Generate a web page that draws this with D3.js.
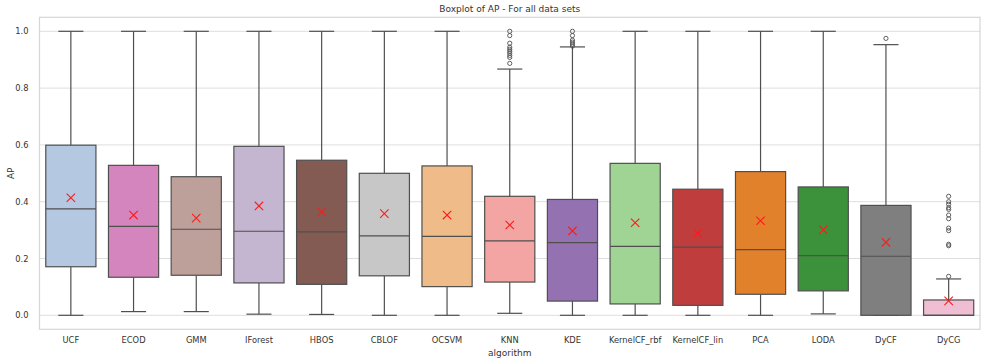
<!DOCTYPE html>
<html>
<head>
<meta charset="utf-8">
<script src="https://cdn.jsdelivr.net/npm/d3@7"></script>
<style>
  body { margin: 0; background: #fff; }
  text { font-family: "DejaVu Sans", sans-serif; fill: #333; }
</style>
</head>
<body>
<div id="chart"></div>
<script>
// data
const algorithms = ["UCF", "ECOD", "GMM", "IForest", "HBOS", "CBLOF", "OCSVM", "KNN", "KDE",
  "KernelCF_rbf", "KernelCF_lin", "PCA", "LODA", "DyCF", "DyCG"];
const whiskerLow  = [0.0, 0.013, 0.013, 0.004, 0.003, 0.0, 0.0, 0.007, 0.0, 0.0, 0.0, 0.0, 0.005, 0.0, 0.0];
const q1          = [0.171, 0.134, 0.141, 0.114, 0.109, 0.139, 0.101, 0.117, 0.050, 0.040, 0.035, 0.074, 0.086, 0.0, 0.0];
const medians     = [0.375, 0.313, 0.303, 0.296, 0.294, 0.280, 0.278, 0.262, 0.256, 0.243, 0.240, 0.231, 0.210, 0.208, 0.0];
const q3          = [0.599, 0.528, 0.488, 0.595, 0.546, 0.500, 0.526, 0.419, 0.408, 0.535, 0.444, 0.506, 0.452, 0.387, 0.054];
const whiskerHigh = [1.0, 1.0, 1.0, 1.0, 1.0, 1.0, 1.0, 0.867, 0.945, 1.0, 1.0, 1.0, 1.0, 0.953, 0.128];
const means       = [0.414, 0.353, 0.342, 0.385, 0.363, 0.358, 0.353, 0.318, 0.297, 0.326, 0.289, 0.333, 0.301, 0.257, 0.051];
const outliers = {
  KNN: [1.0, 0.985, 0.958, 0.944, 0.937, 0.930, 0.923, 0.915, 0.908, 0.887],
  KDE: [1.0, 0.985, 0.969, 0.962, 0.955, 0.948],
  DyCF: [0.975],
  DyCG: [0.419, 0.400, 0.391, 0.379, 0.373, 0.353, 0.340, 0.307, 0.298, 0.250, 0.245, 0.137]
};
const baseColors = ["#aec7e8", "#e377c2", "#c49c94", "#c5b0d5", "#8c564b", "#c7c7c7", "#ffbb78",
  "#ff9896", "#9467bd", "#98df8a", "#d62728", "#ff7f0e", "#2ca02c", "#7f7f7f", "#f7b6d2"];
const yTicks = [0, 0.2, 0.4, 0.6, 0.8, 1.0];

const W = 984, H = 359;
const margin = { top: 17.3, right: 4, bottom: 29.7, left: 39.5 };
const width = W - margin.left - margin.right,
      height = H - margin.top - margin.bottom;

const svg = d3.select("#chart").append("svg")
  .attr("width", W).attr("height", H);
const g = svg.append("g").attr("transform", `translate(${margin.left},${margin.top})`);

const x = d3.scaleBand().domain(algorithms).range([0, width]).padding(0);
const y = d3.scaleLinear().domain([-0.0493, 1.0493]).range([height, 0]);

// seaborn style desaturation
const color = d3.scaleOrdinal().domain(algorithms).range(baseColors.map(c => {
  const h = d3.hsl(c); h.s *= 0.75; return h.formatHex();
}));

// grid
g.selectAll(".grid").data(yTicks).join("line")
  .attr("x1", 0).attr("x2", width)
  .attr("y1", d => y(d)).attr("y2", d => y(d))
  .attr("stroke", "#dedede").attr("stroke-width", 1);

// frame
g.append("rect").attr("width", width).attr("height", height)
  .attr("fill", "none").attr("stroke", "#d6d6d6").attr("stroke-width", 1.2);

// y axis labels
const yAxis = g.append("g").call(d3.axisLeft(y).tickValues(yTicks).tickFormat(d3.format(".1f")).tickSize(0).tickPadding(11));
yAxis.select(".domain").remove();
yAxis.selectAll("text").style("font-size", "8.3px").style("font-family", "DejaVu Sans").attr("fill", "#333");

// x axis labels
const xAxis = g.append("g").attr("transform", `translate(0,${height})`)
  .call(d3.axisBottom(x).tickSize(0).tickPadding(8));
xAxis.select(".domain").remove();
xAxis.selectAll("text").style("font-size", "8.3px").style("font-family", "DejaVu Sans").attr("fill", "#333");

const lineColor = "#4f4f4f";
const boxW = x.bandwidth() * 0.8;
const capW = boxW / 2;

const boxes = g.selectAll(".box").data(algorithms).join("g")
  .attr("transform", d => `translate(${x(d) + x.bandwidth() / 2},0)`);

// whiskers
boxes.append("line")
  .attr("y1", (d, i) => y(whiskerLow[i])).attr("y2", (d, i) => y(q1[i]))
  .attr("stroke", lineColor).attr("stroke-width", 1.2);
boxes.append("line")
  .attr("y1", (d, i) => y(q3[i])).attr("y2", (d, i) => y(whiskerHigh[i]))
  .attr("stroke", lineColor).attr("stroke-width", 1.2);
boxes.append("line")
  .attr("x1", -capW / 2).attr("x2", capW / 2)
  .attr("y1", (d, i) => y(whiskerLow[i])).attr("y2", (d, i) => y(whiskerLow[i]))
  .attr("stroke", lineColor).attr("stroke-width", 1.2);
boxes.append("line")
  .attr("x1", -capW / 2).attr("x2", capW / 2)
  .attr("y1", (d, i) => y(whiskerHigh[i])).attr("y2", (d, i) => y(whiskerHigh[i]))
  .attr("stroke", lineColor).attr("stroke-width", 1.2);

// boxes
boxes.append("rect")
  .attr("x", -boxW / 2).attr("width", boxW)
  .attr("y", (d, i) => y(q3[i]))
  .attr("height", (d, i) => y(q1[i]) - y(q3[i]))
  .attr("fill", d => color(d))
  .attr("stroke", lineColor).attr("stroke-width", 1.2);

// medians
boxes.append("line")
  .attr("x1", -boxW / 2).attr("x2", boxW / 2)
  .attr("y1", (d, i) => y(medians[i])).attr("y2", (d, i) => y(medians[i]))
  .attr("stroke", lineColor).attr("stroke-width", 1.2);

// outliers
boxes.selectAll(".flier").data(d => outliers[d] || []).join("circle")
  .attr("cx", 0).attr("cy", v => y(v)).attr("r", 2.1)
  .attr("fill", "none").attr("stroke", lineColor).attr("stroke-width", 0.9);

// means as red x
const m = 4.2;
boxes.append("path")
  .attr("d", (d, i) => {
    const cy = y(means[i]);
    return `M${-m},${cy - m}L${m},${cy + m}M${-m},${cy + m}L${m},${cy - m}`;
  })
  .attr("stroke", "#ff1a1a").attr("stroke-width", 1.1).attr("fill", "none");

// titles
svg.append("text").attr("x", margin.left + width / 2).attr("y", 12)
  .attr("text-anchor", "middle").style("font-size", "9px").text("Boxplot of AP - For all data sets");
svg.append("text").attr("x", margin.left + width / 2).attr("y", 356)
  .attr("text-anchor", "middle").style("font-size", "9px").text("algorithm");
svg.append("text").attr("transform", `translate(14,${margin.top + y(0.5)}) rotate(-90)`)
  .attr("text-anchor", "middle").style("font-size", "9px").text("AP");
</script>
</body>
</html>
